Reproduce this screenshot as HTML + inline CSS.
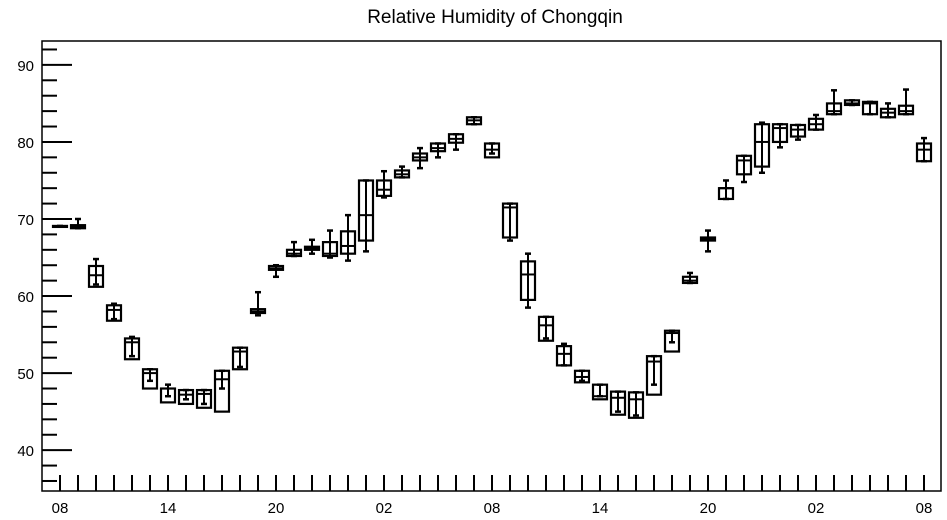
<!DOCTYPE html>
<html><head><meta charset="utf-8"><style>
body{margin:0;background:#fff;}
svg{display:block;font-family:"Liberation Sans",sans-serif;}
</style></head><body>
<svg id="chart" width="947" height="520" viewBox="0 0 947 520" xmlns="http://www.w3.org/2000/svg">
<text x="495" y="23" font-size="19" text-anchor="middle">Relative Humidity of Chongqin</text>
<rect x="42" y="41" width="899" height="450" fill="none" stroke="#000" stroke-width="1.5"/>
<g id="axes"></g>
<g id="marks"></g>
</svg>
<script>
const hourLabels = ["08","14","20","02","08","14","20","02","08"];
const yTickLabels = [40,50,60,70,80,90];
const q1 =   [69,68.8,61.2,56.8,51.8,48,46.2,46,45.5,45,50.5,57.8,63.4,65.2,66,65.2,65.5,67.2,73,75.4,77.6,78.8,79.9,82.3,78,67.6,59.5,54.2,51,48.8,46.6,44.6,44.2,47.2,52.8,61.7,67.2,72.6,75.8,76.8,80,80.7,81.6,83.6,84.8,83.6,83.2,83.6,77.5];
const q3 =   [69.1,69.2,63.9,58.8,54.5,50.5,48,47.8,47.8,50.3,53.3,58.3,63.9,66,66.4,67,68.4,75,75,76.3,78.5,79.8,81,83.2,79.8,72,64.5,57.3,53.5,50.3,48.5,47.6,47.5,52.2,55.5,62.5,67.6,74,78.2,82.3,82.3,82.2,83,85,85.4,85.2,84.3,84.7,79.8];
const med =  [69,69,62.7,58.2,54,50,48,47.2,47.3,49.2,52.8,58,63.6,65.5,66.2,65.5,66.5,70.5,73.8,75.8,78,79.2,80.4,82.8,79,71.5,62.8,56.2,52.5,49.5,47,46.8,46.6,51.5,55.2,62,67.4,74,77.6,80,81.8,81.6,82.3,84,85,85,83.8,84,79];
const wmin = [69,68.8,61.5,57,52.2,49,47,46.6,46,48,50.8,57.5,62.5,65.2,65.5,65,64.6,65.8,72.8,75.4,76.6,78,79,82.3,78.5,67.2,58.5,54.5,51,49,47,45,44.5,48.5,54,61.7,65.8,72.6,74.8,76,79.3,80.3,81.6,83.6,84.8,83.6,83.2,83.6,77.5];
const wmax = [69.1,70,64.8,59,54.7,50.5,48.5,47.8,47.8,50.3,53.3,60.5,64,67,67.3,68.5,70.5,75,76.2,76.8,79.2,79.8,81,83.2,79.8,72,65.5,57.3,53.8,50.3,48.5,47.6,47.5,52.2,55.5,63,68.5,75,78.2,82.5,82.3,82.2,83.5,86.7,85.4,85.2,85,86.8,80.5];

const X0=60, DX=18, L=42, R=941, T=41, B=491;
const YMIN=34.7, YMAX=93.1;
const xs = i => X0 + DX*i;
const ys = v => B - (v-YMIN)/(YMAX-YMIN)*(B-T);
const NS="http://www.w3.org/2000/svg";
const axes=document.getElementById('axes'), marks=document.getElementById('marks');
function ln(p,x1,y1,x2,y2,w){const e=document.createElementNS(NS,'line');e.setAttribute('x1',x1);e.setAttribute('y1',y1);e.setAttribute('x2',x2);e.setAttribute('y2',y2);e.setAttribute('stroke','#000');e.setAttribute('stroke-width',w||2);p.appendChild(e);return e;}
function tx(p,x,y,s,anchor){const e=document.createElementNS(NS,'text');e.setAttribute('x',x);e.setAttribute('y',y);e.setAttribute('font-size','15');e.setAttribute('text-anchor',anchor);e.textContent=s;p.appendChild(e);return e;}
// y ticks
for(let v=36;v<=92;v+=2){
  const major=(v%10===0);
  const t=ln(axes,L,ys(v),L+(major?30:15),ys(v),2);
  
  
}
yTickLabels.forEach(v=>{
  const t=tx(axes,34,ys(v)+6,String(v),'end');
  
  
});
// x ticks
for(let i=0;i<q1.length;i++){
  const t=ln(axes,xs(i),B-16,xs(i),B,2);
  
  
}
hourLabels.forEach((s,k)=>{
  const t=tx(axes,xs(k*6),B+22,s,'middle');
  
  
});
// candles
for(let i=0;i<q1.length;i++){
  const g=document.createElementNS(NS,'g');
  
  
  const x=xs(i), hw=7;
  const r=document.createElementNS(NS,'rect');
  r.setAttribute('x',x-hw);r.setAttribute('y',ys(q3[i]));
  r.setAttribute('width',2*hw);r.setAttribute('height',Math.max(1,ys(q1[i])-ys(q3[i])));
  r.setAttribute('fill','none');r.setAttribute('stroke','#000');r.setAttribute('stroke-width','2.2');
  
  
  g.appendChild(r);
  const m=ln(g,x-hw,ys(med[i]),x+hw,ys(med[i]),2);
  
  
  const w1=ln(g,x,ys(wmax[i]),x,ys(wmin[i]),2);
  
  
  const c1=ln(g,x-3,ys(wmax[i]),x+3,ys(wmax[i]),2.5);
  
  
  const c2=ln(g,x-3,ys(wmin[i]),x+3,ys(wmin[i]),2.5);
  
  
  marks.appendChild(g);
}
</script>
</body></html>
